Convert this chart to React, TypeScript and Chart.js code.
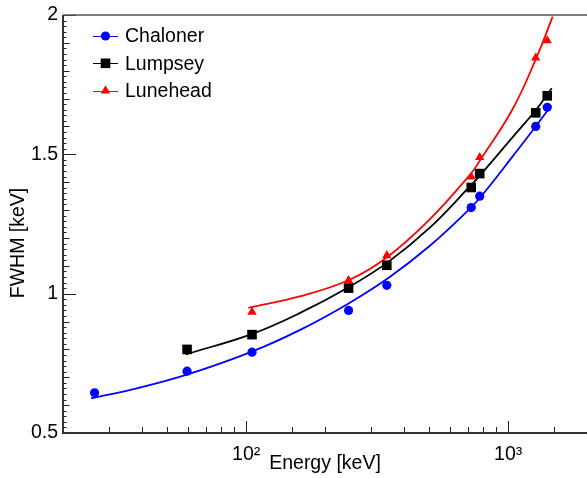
import React, { useEffect, useRef } from 'react';
import { Chart, registerables } from 'chart.js';

Chart.register(...registerables);

const FONT = '"Liberation Sans", Arial, Helvetica, sans-serif';

// Measured points (energy in keV, FWHM in keV)
const chalonerE = [26.4, 59.5, 105.3, 246, 344.3, 723, 778.9, 1274.5, 1410];
const chalonerFWHM = [0.644, 0.722, 0.79, 0.94, 1.03, 1.309, 1.35, 1.6, 1.669];
const lumpseyE = [59.5, 105.3, 246, 344.3, 723, 778.9, 1274.5, 1410];
const lumpseyFWHM = [0.8, 0.853, 1.02, 1.102, 1.381, 1.431, 1.649, 1.71];
const luneheadE = [105.3, 246, 344.3, 723, 778.9, 1274.5, 1410];
const luneheadFWHM = [0.934, 1.048, 1.137, 1.419, 1.489, 1.846, 1.908];

// Fit curves
const chalonerFitE = [25.6, 39, 59.8, 104, 160, 246, 350, 500, 723, 824, 1037, 1274, 1460];
const chalonerFitV = [0.624, 0.662, 0.71, 0.79, 0.869, 0.965, 1.057, 1.17, 1.31, 1.371, 1.491, 1.6, 1.675];
const lumpseyFitE = [58.7, 105, 160, 248, 350, 500, 723, 777, 1037, 1274, 1467];
const lumpseyFitV = [0.782, 0.855, 0.93, 1.025, 1.115, 1.235, 1.39, 1.422, 1.56, 1.658, 1.737];
const luneheadFitE = [102, 160, 248, 344, 500, 723, 777, 1037, 1279, 1479];
const luneheadFitV = [0.949, 0.99, 1.05, 1.13, 1.265, 1.432, 1.475, 1.66, 1.844, 1.994];

const seriesNames = ['Chaloner', 'Lumpsey', 'Lunehead'];
const seriesColors = ['#0000ff', '#000000', '#ff0000'];

// Axis ticks and labels
const xMajorTicks = [100, 1000];
const xMajorLabels = ['10\u00b2', '10\u00b3'];
const yLabelTicks = [0.5, 1, 1.5, 2];
const yLabels = ['0.5', '1', '1.5', '2'];
const xTitle = 'Energy [keV]';
const yTitle = 'FWHM [keV]';

const near = (v: number) => Math.abs(v - Math.round(v)) < 1e-6;

function drawMarker(ctx: CanvasRenderingContext2D, style: string, r: number, x: number, y: number) {
  ctx.beginPath();
  if (style === 'circle') {
    ctx.arc(x, y, r, 0, Math.PI * 2);
  } else if (style === 'rect') {
    const s = Math.SQRT1_2 * r;
    ctx.rect(x - s, y - s, 2 * s, 2 * s);
  } else if (style === 'triangle') {
    let rad = 0;
    ctx.moveTo(x + Math.sin(rad) * r, y - Math.cos(rad) * r);
    rad += (2 * Math.PI) / 3;
    ctx.lineTo(x + Math.sin(rad) * r, y - Math.cos(rad) * r);
    rad += (2 * Math.PI) / 3;
    ctx.lineTo(x + Math.sin(rad) * r, y - Math.cos(rad) * r);
    ctx.closePath();
  }
  ctx.fill();
}

export default function App() {
  const ref = useRef<HTMLCanvasElement>(null);

  useEffect(() => {
    const canvas = ref.current;
    if (!canvas) return;
    const pts = (xs: number[], ys: number[]) => xs.map((x, i) => ({ x, y: ys[i] }));

    const styles = ['circle', 'rect', 'triangle'];
    const radii = [4.6, 6.8, 5.4];

    const pointSets = [
      pts(chalonerE, chalonerFWHM),
      pts(lumpseyE, lumpseyFWHM),
      pts(luneheadE, luneheadFWHM),
    ].map((data, i) => ({
      label: seriesNames[i],
      data,
      showLine: false,
      pointStyle: styles[i],
      pointRadius: radii[i],
      pointBackgroundColor: seriesColors[i],
      pointBorderColor: seriesColors[i],
      pointBorderWidth: 0,
      borderColor: seriesColors[i],
      backgroundColor: seriesColors[i],
      order: 0,
    }));

    const fitSets = [
      pts(chalonerFitE, chalonerFitV),
      pts(lumpseyFitE, lumpseyFitV),
      pts(luneheadFitE, luneheadFitV),
    ].map((data, i) => ({
      label: seriesNames[i] + ' fit',
      data,
      showLine: true,
      pointRadius: 0,
      borderColor: seriesColors[i],
      borderWidth: 1.8,
      tension: 0.4,
      fill: false,
      order: 1,
    }));

    const rootFrame = {
      id: 'rootFrame',
      afterDraw(chart: any) {
        const { ctx, chartArea: a, scales } = chart;
        const xs = scales.x;
        const ys = scales.y;
        ctx.save();
        ctx.strokeStyle = '#222';
        ctx.lineWidth = 1;
        ctx.beginPath();
        ys.ticks.forEach((t: any) => {
          const v = t.value;
          const y = Math.round(ys.getPixelForValue(v)) + 0.5;
          const len = near(v / 0.5) ? 13 : near(v / 0.1) ? 6.5 : 3.5;
          ctx.moveTo(a.left, y);
          ctx.lineTo(a.left + len, y);
        });
        xs.ticks.forEach((t: any) => {
          const x = Math.round(xs.getPixelForValue(t.value)) + 0.5;
          const maj = xMajorTicks.indexOf(t.value) >= 0;
          ctx.moveTo(x, a.bottom);
          ctx.lineTo(x, a.bottom - (maj ? 12 : 6));
        });
        ctx.stroke();
        // frame
        ctx.strokeStyle = '#333';
        ctx.lineWidth = 2;
        ctx.beginPath();
        ctx.moveTo(a.left, a.top);
        ctx.lineTo(a.left, a.bottom);
        ctx.lineTo(a.right, a.bottom);
        ctx.stroke();
        ctx.strokeStyle = '#555';
        ctx.lineWidth = 1.5;
        ctx.beginPath();
        ctx.moveTo(a.left, a.top);
        ctx.lineTo(a.right, a.top);
        ctx.stroke();

        // y-axis title
        ctx.save();
        ctx.font = '19.5px ' + FONT;
        ctx.fillStyle = '#000';
        ctx.textAlign = 'center';
        ctx.textBaseline = 'middle';
        ctx.translate(19, 243);
        ctx.rotate(-Math.PI / 2);
        ctx.fillText(yTitle, 0, 0);
        ctx.restore();

        // legend
        const rowY = [36, 63.3, 90.7];
        ctx.font = '19.5px ' + FONT;
        ctx.textBaseline = 'middle';
        ctx.textAlign = 'left';
        pointSets.forEach((ds, i) => {
          const y = rowY[i];
          ctx.strokeStyle = ds.borderColor;
          ctx.lineWidth = 1;
          ctx.beginPath();
          ctx.moveTo(93, Math.round(y) + 0.5);
          ctx.lineTo(118, Math.round(y) + 0.5);
          ctx.stroke();
          ctx.fillStyle = ds.pointBackgroundColor;
          drawMarker(ctx, ds.pointStyle, ds.pointRadius, 105.5, y);
          ctx.fillStyle = '#000';
          ctx.fillText(ds.label, 125, y + 1);
        });
        ctx.restore();
      },
    };

    const chart = new Chart(canvas, {
      type: 'scatter',
      data: { datasets: [...pointSets, ...fitSets] as any },
      options: {
        animation: false,
        responsive: false,
        devicePixelRatio: 1,
        layout: { autoPadding: false, padding: { top: 15, right: 0, left: 0, bottom: 0 } },
        plugins: { legend: { display: false }, tooltip: { enabled: false } },
        scales: {
          x: {
            type: 'logarithmic',
            position: 'bottom',
            min: 20,
            max: 2000,
            grid: { display: false, drawTicks: false },
            border: { display: false },
            afterFit: (s: any) => {
              s.height = 45;
              s.paddingLeft = 0;
              s.paddingRight = 0;
            },
            ticks: {
              autoSkip: false,
              maxRotation: 0,
              minRotation: 0,
              padding: 10,
              color: '#000',
              font: { family: FONT, size: 19.5 },
              callback: (v: any) => {
                const idx = xMajorTicks.indexOf(Number(v));
                return idx >= 0 ? xMajorLabels[idx] : '';
              },
            },
            title: {
              display: true,
              text: xTitle,
              color: '#000',
              font: { family: FONT, size: 19.5 },
              padding: { top: 0, bottom: 3 },
            },
          },
          y: {
            type: 'linear',
            position: 'left',
            min: 0.5,
            max: 2,
            grid: { display: false, drawTicks: false },
            border: { display: false },
            afterFit: (s: any) => {
              s.width = 63;
              s.paddingTop = 0;
              s.paddingBottom = 0;
            },
            ticks: {
              stepSize: 0.02,
              autoSkip: false,
              padding: 5,
              color: '#000',
              font: { family: FONT, size: 19.5 },
              callback: (v: any) => {
                const n = Number(v);
                const idx = yLabelTicks.findIndex((t) => Math.abs(t - n) < 1e-6);
                return idx >= 0 ? yLabels[idx] : '';
              },
            },
            title: { display: false },
          },
        },
      },
      plugins: [rootFrame],
    });

    return () => chart.destroy();
  }, []);

  return (
    <div style={{ position: 'absolute', left: 0, top: 0, width: 587, height: 478, background: '#fff' }}>
      <canvas ref={ref} width={587} height={478} style={{ display: 'block' }} />
    </div>
  );
}
